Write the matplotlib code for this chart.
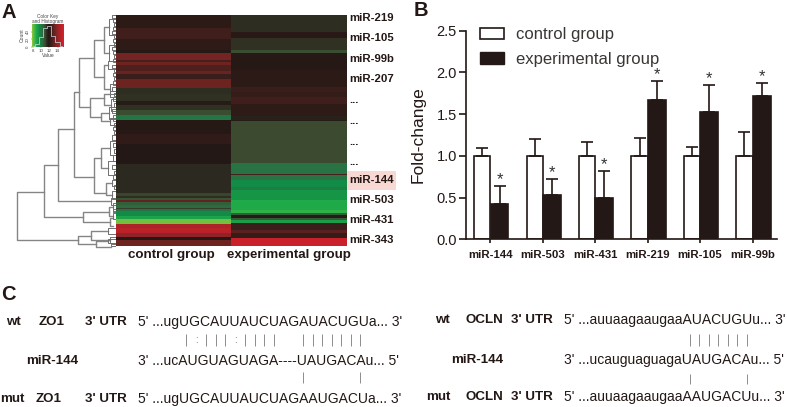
import matplotlib
matplotlib.use("Agg")
import matplotlib.pyplot as plt
import numpy as np
from matplotlib.colors import LinearSegmentedColormap
from matplotlib.patches import Patch, Rectangle

plt.rcParams["font.family"] = ["Liberation Sans", "DejaVu Sans"]

W, H = 787, 407
DARK = "#231815"
GRAY = "#858585"

# panel A heatmap, bands of rows from top to bottom
control_rows = [13, 11, 11, 3, 7, 2, 3, 6, 3, 5, 9, 6, 7, 4, 5, 5, 5, 1, 13, 10, 20, 29,
                3, 2, 2, 2, 3, 3, 1, 2, 5, 3, 5, 4, 5, 4, 3, 6]
control_vals = [11.85, 12.3, 11.9, 11.7, 13.1, 12.4, 13.0, 12.5, 12.9, 12.2, 13.0, 11.2, 11.15,
                11.5, 11.15, 10.8, 10.1, 11.6, 11.7, 11.95, 11.6, 11.25,
                10.9, 11.2, 10.7, 12.8, 10.5, 10.3, 11.0, 10.2, 9.6, 9.1, 8.2, 14.1, 14.4, 13.6, 11.6, 13.0]
exp_rows = [17, 6, 12, 3, 17, 17, 5, 5, 7, 12, 4, 1, 42, 11, 1, 5, 7, 3, 10, 2, 8, 3, 2, 3, 2, 3, 7, 3, 5, 8]
exp_vals = [11.2, 11.75, 11.15, 10.75, 11.7, 11.85, 12.2, 12.05, 12.3, 11.9, 11.4, 11.5, 10.85,
            10.15, 12.4, 10.15, 9.6, 9.9, 9.4, 8.9, 8.95, 8.7, 10.5, 11.5, 10.6, 9.2, 12.2, 12.7, 12.1, 14.7]
heat_labels = ["miR-219", "miR-105", "miR-99b", "miR-207", "...", "...", "...", "...",
               "miR-144", "miR-503", "miR-431", "miR-343"]
heat_label_rows = [3, 23, 44, 64, 85, 106, 127, 147, 165, 185, 205, 225]
heat_groups = ["control group", "experimental group"]

cmap_vals = [8.0, 8.8, 9.6, 10.2, 10.85, 11.25, 11.6, 12.2, 13.0, 14.0, 15.0]
cmap_cols = ["#8dc63f", "#22b04a", "#128c47", "#2a7044", "#3d4a30", "#2c2a20", "#231815",
             "#3a1e1b", "#6e2522", "#a82327", "#d8202a"]

# colour key histogram
key_bins = [8, 9, 10, 11, 12, 13, 14, 15]
key_counts = [2, 8, 27, 50, 54, 30, 12, 3]

# panel A dendrogram: merge height, then (row, height) of the two children
merge_h = [99, 72, 58, 42, 37, 22, 26, 22, 33, 38, 25, 20, 12, 12, 12, 15, 15, 10, 7, 6]
merge_y1 = [177, 150, 114, 77, 43, 25, 83, 143, 197, 221, 216, 226, 12, 50, 79, 98, 133, 168, 192, 203]
merge_h1 = [72, 58, 42, 37, 22, 12, 12, 15, 7, 25, 8, 8, 7, 8, 6, 7, 6, 4, 3, 3]
merge_y2 = [225, 202, 186, 162, 92, 62, 102, 178, 207, 229, 225, 232, 38, 74, 90, 106, 153, 180, 201, 211]
merge_h2 = [38, 33, 5, 22, 26, 12, 15, 10, 6, 20, 6, 5, 7, 6, 5, 6, 8, 4, 3, 3]
tip_h = [7, 7, 8, 6, 6, 5, 7, 6, 6, 8, 4, 4, 5, 3, 3, 8, 6, 8, 5,
         4, 3, 2, 3, 4, 2, 3, 2, 4, 3, 2, 3, 4, 2, 3, 2, 3, 4, 2, 3, 2, 4, 3, 2, 3, 2, 4, 3, 2, 3, 4, 2, 3, 2, 3]
tip_low = [4, 30, 46, 69, 76, 84, 92, 103, 126, 146, 165, 176, 183, 188, 198, 213, 222, 224, 229,
           0, 4, 8, 12, 16, 20, 24, 28, 32, 36, 40, 44, 50, 54, 58, 62, 66, 72, 78, 82, 88, 94, 100, 108, 112,
           116, 120, 128, 134, 140, 150, 156, 160, 170, 194]
tip_high = [20, 46, 54, 79, 82, 96, 104, 110, 140, 160, 171, 184, 190, 196, 204, 219, 228, 228, 231,
            3, 7, 11, 15, 19, 23, 27, 31, 35, 39, 43, 47, 53, 57, 61, 65, 70, 76, 81, 86, 92, 98, 106, 111, 115,
            119, 125, 132, 138, 146, 154, 159, 164, 174, 197]

# panel B
mirnas = ["miR-144", "miR-503", "miR-431", "miR-219", "miR-105", "miR-99b"]
control_mean = [1.0, 1.0, 1.0, 1.0, 1.0, 1.0]
control_err = [0.10, 0.20, 0.17, 0.21, 0.11, 0.28]
exp_mean = [0.42, 0.53, 0.50, 1.67, 1.52, 1.72]
exp_err = [0.22, 0.19, 0.32, 0.23, 0.33, 0.15]

# panel C
c_rows = [322, 361, 399]
left_labels = [("wt", 6), ("ZO1", 39), ("3' UTR", 85), ("miR-144", 26), ("mut", 0), ("ZO1", 36), ("3' UTR", 85)]
left_label_rows = [0, 0, 0, 1, 2, 2, 2]
left_seqs = ["5' ...ugUGCAUUAUCUAGAUACUGUa... 3'", "3' ...ucAUGUAGUAGA----UAUGACAu... 5'",
             "5' ...ugUGCAUUAUCUAGAAUGACUa... 3'"]
right_rows = [320, 360, 397]
right_labels = [("wt", 435), ("OCLN", 465), ("3' UTR", 511), ("miR-144", 451), ("mut", 426), ("OCLN", 465), ("3' UTR", 511)]
right_seqs = ["5' ...auuaagaaugaaAUACUGUu... 3'", "3' ...ucauguaguagaUAUGACAu... 5'",
              "5' ...auuaagaaugaaAAUGACUu... 3'"]
left_pairs = [186, 206, 216, 225, 245, 255, 264, 274, 303, 313, 322, 332, 341, 351, 360]
left_colons = [196, 235]
left_pairs_low = [303, 360]
right_pairs = [690, 699, 709, 718, 728, 737, 747]
right_pairs_low = [690, 747]


def px_axes(fig, x0, y0, x1, y1):
    # axes from pixel box, y counted from the top of the image
    return fig.add_axes([x0 / W, 1 - y1 / H, (x1 - x0) / W, (y1 - y0) / H])


fig = plt.figure(figsize=(W / 100, H / 100), dpi=100)

span = cmap_vals[-1] - cmap_vals[0]
cmap = LinearSegmentedColormap.from_list(
    "gbr", [((v - cmap_vals[0]) / span, c) for v, c in zip(cmap_vals, cmap_cols)], N=512)

# heatmap
ax_h = px_axes(fig, 116, 15, 347, 246)
heat = np.column_stack([np.repeat(control_vals, control_rows), np.repeat(exp_vals, exp_rows)])
ax_h.imshow(heat, cmap=cmap, vmin=cmap_vals[0], vmax=cmap_vals[-1], aspect="auto",
            interpolation="nearest", extent=[0, 2, heat.shape[0], 0])
ax_h.axis("off")

# dendrogram
ax_d = px_axes(fig, 0, 15, 116, 246)
ax_d.set_xlim(116, 0)
ax_d.set_ylim(231, 0)
ax_d.axis("off")
for h, y1, h1, y2, h2 in zip(merge_h, merge_y1, merge_h1, merge_y2, merge_h2):
    ax_d.plot([h1, h, h, h2], [y1, y1, y2, y2], color=GRAY, lw=1.0, clip_on=False)
for h, lo, hi in zip(tip_h, tip_low, tip_high):
    ax_d.plot([1, h, h, 1], [lo, lo, hi, hi], color="#6f6f6f", lw=0.7, clip_on=False)

# colour key
ax_k = px_axes(fig, 32, 24, 64, 47)
ax_k.imshow(np.linspace(8, 15, 128)[None, :], cmap=cmap, vmin=8, vmax=15, aspect="auto",
            extent=[7.7, 15.6, 0, 60])
ax_k.step(key_bins, key_counts, where="mid", color="#c8dce8", lw=0.5)
ax_k.set_xlim(7.7, 15.6)
ax_k.set_ylim(0, 60)
ax_k.set_xticks([8, 10, 12, 14])
ax_k.set_yticks([0, 20, 40])
ax_k.tick_params(labelsize=3.2, length=1, width=0.3, pad=0.5, colors="#444444")
ax_k.set_yticklabels(["0", "20", "40"], rotation=90, va="center")
ax_k.set_xlabel("Value", fontsize=3.6, labelpad=0, color="#444444")
ax_k.set_ylabel("Count", fontsize=3.6, labelpad=0.5, color="#444444")
ax_k.set_title("Color Key\nand Histogram", fontsize=3.4, pad=0.5, color="#444444", linespacing=1.1)
for s in ax_k.spines.values():
    s.set_visible(False)

# bars
ax_b = px_axes(fig, 466, 30.7, 777, 239.3)
x = np.arange(len(mirnas))
err_style = dict(ecolor=DARK, elinewidth=1.2, capsize=4.2, capthick=1.2)
ax_b.bar(x - 0.155, control_mean, 0.31, color="white", edgecolor=DARK, linewidth=1.2,
         yerr=[np.zeros(6), control_err], error_kw=err_style, label="control group")
ax_b.bar(x + 0.175, exp_mean, 0.34, color=DARK, edgecolor=DARK, linewidth=1.2,
         yerr=[np.zeros(6), exp_err], error_kw=err_style, label="experimental group")
for xi, m, e in zip(x, exp_mean, exp_err):
    ax_b.text(xi + 0.175, m + e - 0.015, "*", ha="center", va="bottom", fontsize=12, color="#333333")
ax_b.set_xlim(-0.464, 5.466)
ax_b.set_ylim(0, 2.5)
ax_b.set_xticks(x)
ax_b.set_xticklabels(mirnas, fontsize=8.2, fontweight="bold", color=DARK)
ax_b.set_yticks([0, 0.5, 1, 1.5, 2, 2.5])
ax_b.set_yticklabels(["0.0", "0.5", "1.0", "1.5", "2.0", "2.5"], fontsize=10.5, color=DARK)
ax_b.tick_params(axis="y", length=5, width=1.2, color=DARK, pad=1.5)
ax_b.tick_params(axis="x", length=3, width=1.2, color=DARK, pad=5)
ax_b.set_ylabel("Fold-change", fontsize=12.5, color=DARK, labelpad=8)
for s in ["top", "right"]:
    ax_b.spines[s].set_visible(False)
for s in ["left", "bottom"]:
    ax_b.spines[s].set_linewidth(1.2)
    ax_b.spines[s].set_color(DARK)
handles = [Patch(facecolor="white", edgecolor=DARK, linewidth=1.2), Patch(facecolor=DARK, edgecolor=DARK)]
ax_b.legend(handles, ["control group", "experimental group"], frameon=False, fontsize=12,
            loc="upper left", bbox_to_anchor=(0.045, 1.016), borderaxespad=0, borderpad=0,
            handlelength=1.44, handleheight=0.72, handletextpad=0.72, labelspacing=0.57,
            labelcolor="#3a3634")

# text overlay in image pixels
ov = fig.add_axes([0, 0, 1, 1], zorder=5)
ov.set_xlim(0, W)
ov.set_ylim(H, 0)
ov.axis("off")
ov.patch.set_alpha(0)

ov.add_patch(Rectangle((347, 171), 49, 19, facecolor="#f8d8d3", edgecolor="none"))
for lab, r in zip(heat_labels, heat_label_rows):
    ov.text(349, 15 + r, lab, fontsize=8.2, fontweight="bold", va="center", color=DARK)
ov.text(171.5, 255, heat_groups[0], fontsize=9.6, fontweight="bold", ha="center", va="center", color=DARK)
ov.text(288.5, 255, heat_groups[1], fontsize=9.6, fontweight="bold", ha="center", va="center", color=DARK)

for letter, px, py in [("A", 2, 12), ("B", 414, 10), ("C", 1, 294)]:
    ov.text(px, py, letter, fontsize=14.5, fontweight="bold", va="center", color=DARK)

for (lab, px), ri in zip(left_labels, left_label_rows):
    ov.text(px, c_rows[ri], lab, fontsize=9.6, fontweight="bold", va="center", color=DARK)
for seq, py in zip(left_seqs, c_rows):
    ov.text(138, py, seq, fontsize=10, va="center", color=DARK)
for (lab, px), ri in zip(right_labels, left_label_rows):
    ov.text(px, right_rows[ri], lab, fontsize=9.6, fontweight="bold", va="center", color=DARK)
for seq, py in zip(right_seqs, right_rows):
    ov.text(564, py, seq, fontsize=10, va="center", color=DARK)

ov.vlines(left_pairs, 334, 346, color="#8c8c8c", lw=0.7)
ov.vlines(left_pairs_low, 372, 383, color="#8c8c8c", lw=0.7)
ov.vlines(right_pairs, 334, 346, color="#8c8c8c", lw=0.7)
ov.vlines(right_pairs_low, 374, 384, color="#8c8c8c", lw=0.7)
for px in left_colons:
    ov.text(px, 340, ":", fontsize=7, ha="center", va="center", color="#666666")

fig.savefig("out.png", dpi=100)
